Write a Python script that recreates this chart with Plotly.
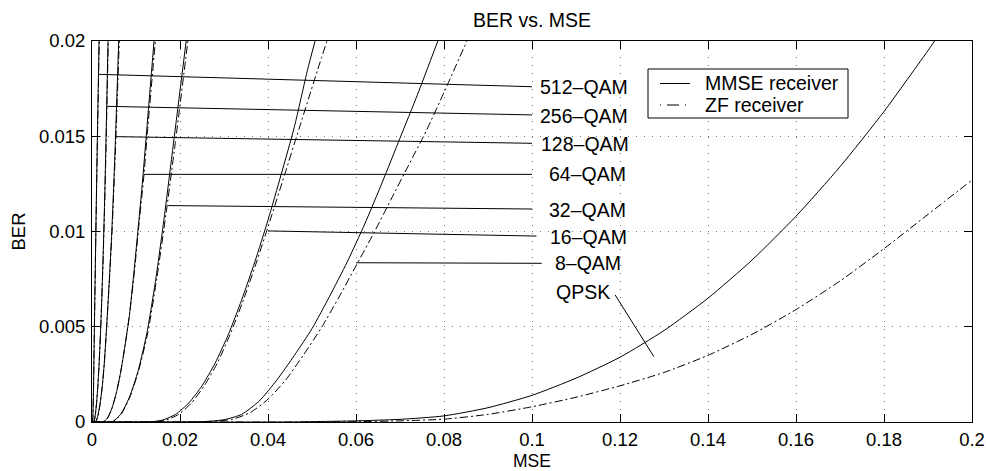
import plotly.graph_objects as go

# ---------------- data ----------------
# MMSE receiver curves (MSE, BER)
mse_mmse_512 = [0.0, 0.0001, 0.0002, 0.0003, 0.0004, 0.0005, 0.0006, 0.0008, 0.0010, 0.0012, 0.0014, 0.0016]
ber_mmse_512 = [0.0, 0.0, 0.0003, 0.0012, 0.0026, 0.0042, 0.0058, 0.0088, 0.0118, 0.0146, 0.0173, 0.0200]
mse_mmse_256 = [0.0, 0.0004, 0.0007, 0.0010, 0.0013, 0.0016, 0.0019, 0.0022, 0.0025, 0.0028, 0.0031, 0.00364]
ber_mmse_256 = [0.0, 0.0, 0.0003, 0.0009, 0.0018, 0.0030, 0.0045, 0.0063, 0.0085, 0.0110, 0.0139, 0.0200]
mse_mmse_128 = [0.0, 0.0008, 0.0013, 0.0018, 0.0023, 0.0028, 0.0033, 0.0039, 0.0045, 0.0052, 0.00607]
ber_mmse_128 = [0.0, 0.0, 0.0003, 0.0009, 0.0018, 0.0031, 0.0049, 0.0073, 0.0100, 0.0140, 0.0200]
mse_mmse_64 = [0.0, 0.0025, 0.0035, 0.0045, 0.0055, 0.0065, 0.0075, 0.0085, 0.0095, 0.0105, 0.0115, 0.0125, 0.0141]
ber_mmse_64 = [0.0, 0.0, 0.0002, 0.0007, 0.0015, 0.0026, 0.0040, 0.0056, 0.0078, 0.0102, 0.0127, 0.0155, 0.0200]
mse_mmse_32 = [0.0, 0.0045, 0.0065, 0.0085, 0.0105, 0.0125, 0.0145, 0.0165, 0.0185, 0.0214]
ber_mmse_32 = [0.0, 0.0, 0.0004, 0.0013, 0.0027, 0.0047, 0.0075, 0.0109, 0.0146, 0.0200]
mse_mmse_16 = [0.0, 0.0130, 0.0160, 0.0190, 0.0220, 0.0250, 0.0280, 0.0310, 0.0340, 0.0370, 0.0400, 0.0430, 0.0460, 0.0490, 0.0507]
ber_mmse_16 = [0.0, 0.0, 0.0001, 0.0004, 0.0010, 0.0019, 0.0031, 0.0046, 0.0064, 0.0084, 0.0106, 0.0130, 0.0155, 0.0185, 0.0200]
mse_mmse_8 = [0.0, 0.022, 0.026, 0.030, 0.034, 0.038, 0.042, 0.046, 0.050, 0.054, 0.058, 0.062, 0.066, 0.070, 0.074, 0.0786]
ber_mmse_8 = [0.0, 0.0, 0.00003, 0.00012, 0.0004, 0.0011, 0.0022, 0.0035, 0.0049, 0.0066, 0.0084, 0.0104, 0.0126, 0.0149, 0.0172, 0.0200]
mse_mmse_qpsk = [0.0, 0.045, 0.050, 0.060, 0.070, 0.080, 0.090, 0.100, 0.110, 0.120, 0.130, 0.140, 0.150, 0.160, 0.170, 0.180, 0.190, 0.1915]
ber_mmse_qpsk = [0.0, 0.0, 0.00002, 0.00006, 0.00014, 0.00032, 0.00075, 0.0014, 0.0023, 0.0034, 0.0048, 0.0065, 0.0085, 0.0108, 0.0134, 0.0163, 0.0195, 0.0200]

# ZF receiver curves (MSE, BER)
mse_zf_512 = [0.0, 0.0001, 0.0002, 0.0003, 0.0004, 0.0005, 0.0006, 0.0008, 0.00101, 0.00122, 0.00143, 0.00164]
ber_zf_512 = [0.0, 0.0, 0.0003, 0.0012, 0.0026, 0.0042, 0.0058, 0.0088, 0.0118, 0.0146, 0.0173, 0.0200]
mse_zf_256 = [0.0, 0.0004, 0.0007, 0.0010, 0.0013, 0.0016, 0.0019, 0.0022, 0.00252, 0.00283, 0.00314, 0.0037]
ber_zf_256 = [0.0, 0.0, 0.0003, 0.0009, 0.0018, 0.0030, 0.0045, 0.0063, 0.0085, 0.0110, 0.0139, 0.0200]
mse_zf_128 = [0.0, 0.0008, 0.0013, 0.0018, 0.0023, 0.0028, 0.0033, 0.00393, 0.00455, 0.00528, 0.0062]
ber_zf_128 = [0.0, 0.0, 0.0003, 0.0009, 0.0018, 0.0031, 0.0049, 0.0073, 0.0100, 0.0140, 0.0200]
mse_zf_64 = [0.0, 0.0025, 0.0035, 0.0045, 0.0055, 0.0065, 0.0075, 0.0085, 0.0096, 0.0106, 0.0117, 0.0127, 0.0144]
ber_zf_64 = [0.0, 0.0, 0.0002, 0.0007, 0.0015, 0.0026, 0.0040, 0.0056, 0.0078, 0.0102, 0.0127, 0.0155, 0.0200]
mse_zf_32 = [0.0, 0.0046, 0.0066, 0.0086, 0.0106, 0.0127, 0.0147, 0.0168, 0.0189, 0.0218]
ber_zf_32 = [0.0, 0.0, 0.0004, 0.0013, 0.0027, 0.0047, 0.0075, 0.0109, 0.0146, 0.0200]
mse_zf_16 = [0.0, 0.0138, 0.0168, 0.0197, 0.0226, 0.0255, 0.0285, 0.0314, 0.0344, 0.0374, 0.0405, 0.0438, 0.0472, 0.0513, 0.0534]
ber_zf_16 = [0.0, 0.0, 0.0001, 0.0004, 0.0010, 0.0019, 0.0031, 0.0046, 0.0064, 0.0084, 0.0106, 0.0130, 0.0155, 0.0185, 0.0200]
mse_zf_8 = [0.0, 0.024, 0.028, 0.032, 0.036, 0.040, 0.044, 0.048, 0.052, 0.056, 0.060, 0.064, 0.068, 0.072, 0.076, 0.080, 0.0852]
ber_zf_8 = [0.0, 0.0, 0.00004, 0.00015, 0.0005, 0.0012, 0.0022, 0.0035, 0.0049, 0.0065, 0.0082, 0.0099, 0.0117, 0.0135, 0.0153, 0.0173, 0.0200]
mse_zf_qpsk = [0.0, 0.050, 0.060, 0.070, 0.080, 0.090, 0.100, 0.110, 0.120, 0.130, 0.140, 0.150, 0.160, 0.170, 0.180, 0.190, 0.200]
ber_zf_qpsk = [0.0, 0.0, 0.00002, 0.00006, 0.00015, 0.0004, 0.0008, 0.0013, 0.0019, 0.0026, 0.0035, 0.0046, 0.0059, 0.0074, 0.0091, 0.0109, 0.0127]

# Curve labels and their leader lines
label_text = ["512–QAM", "256–QAM", "128–QAM", "64–QAM", "32–QAM", "16–QAM", "8–QAM", "QPSK"]
label_x = [0.1014, 0.1014, 0.1016, 0.1033, 0.1033, 0.1037, 0.1048, 0.1051]
label_y = [0.01759, 0.01606, 0.01458, 0.0130, 0.01113, 0.00973, 0.00835, 0.00684]
leader_x0 = [0.0016, 0.0034, 0.0052, 0.0118, 0.0173, 0.0400, 0.0600, 0.1189]
leader_y0 = [0.01825, 0.01657, 0.01498, 0.0130, 0.01136, 0.01003, 0.00836, 0.00667]
leader_x1 = [0.1000, 0.1000, 0.1000, 0.1000, 0.1000, 0.1010, 0.1022, 0.1277]
leader_y1 = [0.01760, 0.01612, 0.01463, 0.0130, 0.01118, 0.00976, 0.00833, 0.00343]

legend_names = ["MMSE receiver", "ZF receiver"]

x_ticks = [0, 0.02, 0.04, 0.06, 0.08, 0.1, 0.12, 0.14, 0.16, 0.18, 0.2]
x_tick_text = ["0", "0.02", "0.04", "0.06", "0.08", "0.1", "0.12", "0.14", "0.16", "0.18", "0.2"]
y_ticks = [0, 0.005, 0.01, 0.015, 0.02]
y_tick_text = ["0", "0.005", "0.01", "0.015", "0.02"]

# ---------------- figure ----------------
FONT = "Liberation Sans, Arial, Helvetica, sans-serif"
FS_TICK = 18.5
FS_TEXT = 19.5
DASHDOT = "8px,3px,2px,3px"
W, H = 986, 471
ML, MR, MT, MB = 92, 14, 41, 49
PW, PH = W - ML - MR, H - MT - MB


def px_to_paper(px, py):
    return (px - ML) / PW, (H - MB - py) / PH


mmse_curves = [(mse_mmse_512, ber_mmse_512), (mse_mmse_256, ber_mmse_256), (mse_mmse_128, ber_mmse_128),
               (mse_mmse_64, ber_mmse_64), (mse_mmse_32, ber_mmse_32), (mse_mmse_16, ber_mmse_16),
               (mse_mmse_8, ber_mmse_8), (mse_mmse_qpsk, ber_mmse_qpsk)]
zf_curves = [(mse_zf_512, ber_zf_512), (mse_zf_256, ber_zf_256), (mse_zf_128, ber_zf_128),
             (mse_zf_64, ber_zf_64), (mse_zf_32, ber_zf_32), (mse_zf_16, ber_zf_16),
             (mse_zf_8, ber_zf_8), (mse_zf_qpsk, ber_zf_qpsk)]

fig = go.Figure()

for xs, ys in mmse_curves:
    fig.add_trace(go.Scatter(
        x=xs, y=ys, mode="lines", name=legend_names[0],
        line=dict(color="black", width=1, shape="spline", smoothing=0.6),
        showlegend=False, legendgroup="mmse", hoverinfo="skip"))

for xs, ys in zf_curves:
    fig.add_trace(go.Scatter(
        x=xs, y=ys, mode="lines", name=legend_names[1],
        line=dict(color="black", width=1, dash=DASHDOT, shape="spline", smoothing=0.6),
        showlegend=False, legendgroup="zf", hoverinfo="skip"))

# leader lines
for x0, y0, x1, y1 in zip(leader_x0, leader_y0, leader_x1, leader_y1):
    fig.add_trace(go.Scatter(
        x=[x0, x1], y=[y0, y1], mode="lines",
        line=dict(color="black", width=1), showlegend=False, hoverinfo="skip"))

for t, x, y in zip(label_text, label_x, label_y):
    fig.add_annotation(x=x, y=y, xref="x", yref="y", text=t, showarrow=False,
                       xanchor="left", yanchor="middle",
                       font=dict(family=FONT, size=FS_TEXT, color="black"))

# legend box (drawn in paper coordinates, MATLAB style)
bx0, by0 = px_to_paper(648, 69)
bx1, by1 = px_to_paper(848, 118)
fig.add_shape(type="rect", xref="paper", yref="paper", x0=bx0, y0=by0, x1=bx1, y1=by1,
              line=dict(color="black", width=1), fillcolor="white", layer="above")
for name, row_y, dash in zip(legend_names, [83.5, 105], ["solid", "1px,6px,12px,6px,1px,10px"]):
    lx0, ly = px_to_paper(660, row_y)
    lx1, _ = px_to_paper(690, row_y)
    fig.add_shape(type="line", xref="paper", yref="paper", x0=lx0, y0=ly, x1=lx1, y1=ly,
                  line=dict(color="black", width=1, dash=dash), layer="above")
    tx, _ = px_to_paper(703, row_y)
    fig.add_annotation(x=tx, y=ly, xref="paper", yref="paper", text=name, showarrow=False,
                       xanchor="left", yanchor="middle",
                       font=dict(family=FONT, size=FS_TEXT, color="black"))

axis_common = dict(
    showline=True, linecolor="black", linewidth=1, mirror="ticks",
    ticks="inside", ticklen=8, tickcolor="black", tickwidth=1,
    showgrid=True, gridcolor="#777777", gridwidth=1, griddash="1px,7px",
    zeroline=False, automargin=False,
    tickfont=dict(family=FONT, size=FS_TICK, color="black"),
)

fig.update_xaxes(range=[0, 0.2], tickvals=x_ticks, ticktext=x_tick_text,
                 title=dict(text="MSE", font=dict(family=FONT, size=17.5, color="black"), standoff=13),
                 ticklabelstandoff=1, **axis_common)
fig.update_yaxes(range=[0, 0.02], tickvals=y_ticks, ticktext=y_tick_text,
                 title=dict(text="BER", font=dict(family=FONT, size=FS_TICK, color="black"), standoff=8),
                 ticklabelstandoff=2, **axis_common)

fig.update_layout(
    width=W, height=H, autosize=False,
    margin=dict(l=ML, r=MR, t=MT, b=MB),
    paper_bgcolor="white", plot_bgcolor="white",
    title=dict(text="BER vs. MSE", x=(532 / W), xanchor="center", y=1 - 20 / H, yanchor="middle",
               font=dict(family=FONT, size=FS_TEXT, color="black")),
    font=dict(family=FONT, size=FS_TICK, color="black"),
    showlegend=False,
)

fig.write_html("out.html")
